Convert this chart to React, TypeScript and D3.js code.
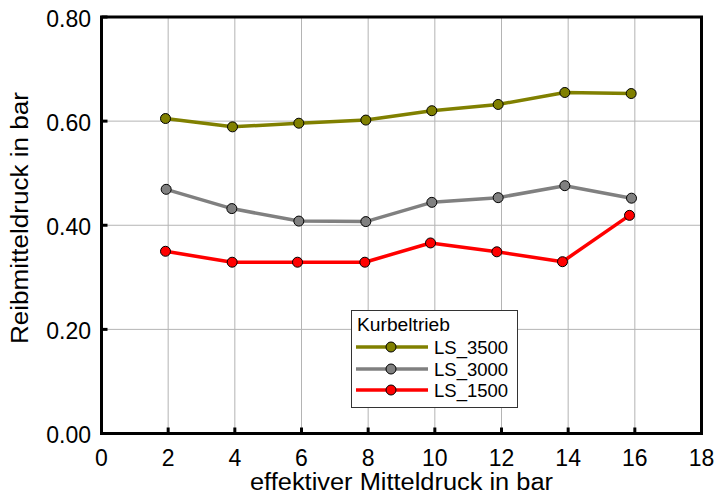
import React from "react";
import * as d3 from "d3";

const xTicks = [0, 2, 4, 6, 8, 10, 12, 14, 16, 18];
const yTicks = [0, 0.2, 0.4, 0.6, 0.8];
const xGrid = [2, 4, 6, 8, 10, 12, 14, 16];
const yGrid = [0.2, 0.4, 0.6];

const x3500 = [1.92, 3.93, 5.92, 7.93, 9.91, 11.9, 13.9, 15.89];
const y3500 = [0.605, 0.589, 0.596, 0.602, 0.62, 0.632, 0.655, 0.653];
const x3000 = [1.94, 3.91, 5.92, 7.93, 9.91, 11.9, 13.9, 15.9];
const y3000 = [0.469, 0.432, 0.408, 0.407, 0.444, 0.453, 0.476, 0.452];
const x1500 = [1.92, 3.92, 5.88, 7.9, 9.87, 11.86, 13.83, 15.84];
const y1500 = [0.35, 0.329, 0.329, 0.329, 0.366, 0.349, 0.33, 0.419];

const seriesNames = ["LS_3500", "LS_3000", "LS_1500"];
const seriesColors = ["#808000", "#808080", "#ff0000"];
const legendTitle = "Kurbeltrieb";
const xTitle = "effektiver Mitteldruck in bar";
const yTitle = "Reibmitteldruck in bar";

const W = 717;
const H = 495;
const left = 101.5;
const right = 701.5;
const top = 17;
const bottom = 433.5;
const font = "'Liberation Sans', Arial, sans-serif";

export default function App() {
  const x = d3.scaleLinear().domain([0, 18]).range([left, right]);
  const y = d3.scaleLinear().domain([0, 0.8]).range([bottom, top]);
  const line = d3
    .line<[number, number]>()
    .x((d) => x(d[0]))
    .y((d) => y(d[1]));

  const series = [
    { xs: x3500, ys: y3500 },
    { xs: x3000, ys: y3000 },
    { xs: x1500, ys: y1500 },
  ].map((s, i) => ({
    name: seriesNames[i],
    color: seriesColors[i],
    pts: s.xs.map((v, j) => [v, s.ys[j]] as [number, number]),
  }));

  const lg = { x: 351.5, y: 310.5, w: 166, h: 97 };
  const rowY = [347, 369, 390];

  return (
    <svg
      width={W}
      height={H}
      style={{ position: "absolute", left: 0, top: 0, background: "#fff" }}
      fontFamily={font}
    >
      <rect x={0} y={0} width={W} height={H} fill="#fff" />
      {xGrid.map((v) => (
        <line key={"gx" + v} x1={x(v)} x2={x(v)} y1={top} y2={bottom} stroke="#b4b4b4" strokeWidth={1} />
      ))}
      {yGrid.map((v) => (
        <line key={"gy" + v} x1={left} x2={right} y1={y(v)} y2={y(v)} stroke="#b4b4b4" strokeWidth={1} />
      ))}
      {series.map((s) => (
        <g key={s.name}>
          <path d={line(s.pts) || ""} fill="none" stroke={s.color} strokeWidth={3.5} strokeLinejoin="round" />
          {s.pts.map((p, j) => (
            <circle key={j} cx={x(p[0])} cy={y(p[1])} r={5} fill={s.color} stroke="#000" strokeWidth={1} />
          ))}
        </g>
      ))}
      <rect x={left} y={top} width={right - left} height={bottom - top} fill="none" stroke="#000" strokeWidth={3} />
      {xTicks.map((v) => (
        <line key={"tx" + v} x1={x(v)} x2={x(v)} y1={bottom} y2={bottom - 6} stroke="#000" strokeWidth={3} />
      ))}
      {yTicks.map((v) => (
        <line key={"ty" + v} x1={left} x2={left + 6} y1={y(v)} y2={y(v)} stroke="#000" strokeWidth={3} />
      ))}
      {xTicks.map((v) => (
        <text key={"lx" + v} x={x(v)} y={465.5} textAnchor="middle" fontSize={23} fill="#000">
          {v}
        </text>
      ))}
      {yTicks.map((v) => (
        <text key={"ly" + v} x={91} y={y(v) + 9.5} textAnchor="end" fontSize={23} fill="#000">
          {v.toFixed(2)}
        </text>
      ))}
      <text x={(left + right) / 2} y={489.5} textAnchor="middle" fontSize={23} fill="#000"
        textLength={303} lengthAdjust="spacingAndGlyphs">
        {xTitle}
      </text>
      <text
        transform={`translate(27.5,218) rotate(-90)`}
        textAnchor="middle"
        fontSize={23}
        fill="#000"
        textLength={252}
        lengthAdjust="spacingAndGlyphs"
      >
        {yTitle}
      </text>
      <rect x={lg.x} y={lg.y} width={lg.w} height={lg.h} fill="#fff" stroke="#333" strokeWidth={1} />
      <text x={357} y={331} fontSize={18} fill="#000" textLength={93} lengthAdjust="spacingAndGlyphs">
        {legendTitle}
      </text>
      {series.map((s, i) => (
        <g key={"lg" + s.name}>
          <line x1={356} x2={428} y1={rowY[i]} y2={rowY[i]} stroke={s.color} strokeWidth={3.5} />
          <circle cx={391} cy={rowY[i]} r={5} fill={s.color} stroke="#000" strokeWidth={1} />
          <text x={434} y={rowY[i] + 6.5} fontSize={18.5} fill="#000">
            {s.name}
          </text>
        </g>
      ))}
    </svg>
  );
}
